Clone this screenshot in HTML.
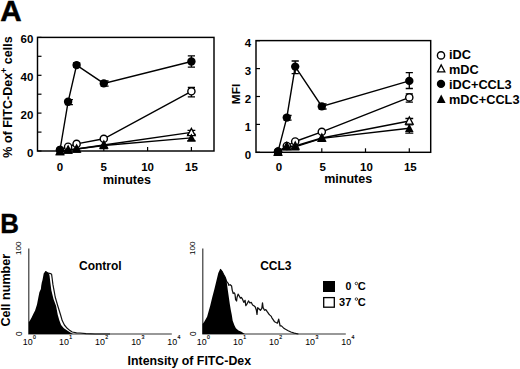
<!DOCTYPE html><html><head><meta charset="utf-8"><style>html,body{margin:0;padding:0;background:#fff;}svg{display:block}</style></head><body>
<svg width="520" height="369" viewBox="0 0 520 369" font-family='"Liberation Sans", sans-serif'>
<rect width="520" height="369" fill="#fff"/>
<text x="0.3" y="20.8" font-size="29.6" font-weight="bold" stroke="#000" stroke-width="0.5">A</text>
<text transform="translate(0.2,233.3) scale(0.93,1)" font-size="27.8" font-weight="bold" stroke="#000" stroke-width="0.4">B</text>
<rect x="37.5" y="37.4" width="176.5" height="113.6" fill="none" stroke="#000" stroke-width="1.45"/>
<path d="M37.5,151.0H41.5" stroke="#000" stroke-width="1.2"/>
<path d="M37.5,132.1H41.5" stroke="#000" stroke-width="1.2"/>
<path d="M37.5,113.1H41.5" stroke="#000" stroke-width="1.2"/>
<path d="M37.5,94.2H41.5" stroke="#000" stroke-width="1.2"/>
<path d="M37.5,75.3H41.5" stroke="#000" stroke-width="1.2"/>
<path d="M37.5,56.3H41.5" stroke="#000" stroke-width="1.2"/>
<path d="M37.5,37.4H41.5" stroke="#000" stroke-width="1.2"/>
<path d="M60.0,151V147" stroke="#000" stroke-width="1.2"/>
<path d="M103.8,151V147" stroke="#000" stroke-width="1.2"/>
<path d="M147.6,151V147" stroke="#000" stroke-width="1.2"/>
<path d="M191.4,151V147" stroke="#000" stroke-width="1.2"/>
<path d="M60.0,150.0 L68.1,146.7 L76.6,143.9 L103.8,138.8 L191.4,91.3" fill="none" stroke="#000" stroke-width="1.4"/>
<path d="M60.0,151.5 L68.1,150.0 L76.6,149.0 L103.8,145.0 L191.4,132.4" fill="none" stroke="#000" stroke-width="1.4"/>
<path d="M60.0,150.0 L68.1,101.8 L76.6,65.1 L103.8,83.4 L191.4,61.5" fill="none" stroke="#000" stroke-width="1.4"/>
<path d="M60.0,151.5 L68.1,150.0 L76.6,149.0 L103.8,145.5 L191.4,137.9" fill="none" stroke="#000" stroke-width="1.4"/>
<path d="M191.4,87.5V96.8M187.8,87.5H195.0M187.8,96.8H195.0" stroke="#000" stroke-width="1.3" fill="none"/>
<path d="M191.4,130.3V134.5M187.5,130.3H195.3M187.5,134.5H195.3" stroke="#000" stroke-width="1.3" fill="none"/>
<path d="M191.4,55.8V67.2M187.8,55.8H195.0M187.8,67.2H195.0" stroke="#000" stroke-width="1.3" fill="none"/>
<path d="M68.9,99.6V104.7M64.9,99.6H72.9M64.9,104.7H72.9" stroke="#000" stroke-width="1.3" fill="none"/>
<path d="M76.6,63.0V67.0M73.0,63.0H80.2M73.0,67.0H80.2" stroke="#000" stroke-width="1.3" fill="none"/>
<path d="M104.6,81.0V86.2M100.6,81.0H108.6M100.6,86.2H108.6" stroke="#000" stroke-width="1.3" fill="none"/>
<path d="M191.4,134.5V140.8M187.2,134.5H195.6M187.2,140.8H195.6" stroke="#000" stroke-width="1.3" fill="none"/>
<circle cx="60.0" cy="150.0" r="3.6" fill="#fff" stroke="#000" stroke-width="1.4"/>
<circle cx="68.1" cy="146.7" r="3.6" fill="#fff" stroke="#000" stroke-width="1.4"/>
<circle cx="76.6" cy="143.9" r="3.6" fill="#fff" stroke="#000" stroke-width="1.4"/>
<circle cx="103.8" cy="138.8" r="3.6" fill="#fff" stroke="#000" stroke-width="1.4"/>
<circle cx="191.4" cy="91.3" r="3.6" fill="#fff" stroke="#000" stroke-width="1.4"/>
<polygon points="60.0,147.5 56.2,154.7 63.8,154.7" fill="#fff" stroke="#000" stroke-width="1.3" stroke-linejoin="miter"/>
<polygon points="68.1,146.0 64.3,153.2 71.9,153.2" fill="#fff" stroke="#000" stroke-width="1.3" stroke-linejoin="miter"/>
<polygon points="76.6,145.0 72.8,152.2 80.4,152.2" fill="#fff" stroke="#000" stroke-width="1.3" stroke-linejoin="miter"/>
<polygon points="103.8,141.0 100.0,148.2 107.6,148.2" fill="#fff" stroke="#000" stroke-width="1.3" stroke-linejoin="miter"/>
<polygon points="191.4,128.4 187.6,135.6 195.2,135.6" fill="#fff" stroke="#000" stroke-width="1.3" stroke-linejoin="miter"/>
<circle cx="60.0" cy="150.0" r="4.2" fill="#000"/>
<circle cx="68.1" cy="101.8" r="4.2" fill="#000"/>
<circle cx="76.6" cy="65.1" r="4.2" fill="#000"/>
<circle cx="103.8" cy="83.4" r="4.2" fill="#000"/>
<circle cx="191.4" cy="61.5" r="4.2" fill="#000"/>
<polygon points="60.0,147.0 55.7,155.2 64.3,155.2" fill="#000"/>
<polygon points="68.1,145.5 63.8,153.7 72.4,153.7" fill="#000"/>
<polygon points="76.6,144.5 72.3,152.7 80.9,152.7" fill="#000"/>
<polygon points="103.8,141.0 99.5,149.2 108.1,149.2" fill="#000"/>
<polygon points="191.4,133.4 187.1,141.6 195.7,141.6" fill="#000"/>
<text x="33.4" y="157.0" font-size="11.5" font-weight="bold" text-anchor="end">0</text>
<text x="33.4" y="119.1" font-size="11.5" font-weight="bold" text-anchor="end">20</text>
<text x="33.4" y="81.3" font-size="11.5" font-weight="bold" text-anchor="end">40</text>
<text x="33.4" y="43.4" font-size="11.5" font-weight="bold" text-anchor="end">60</text>
<text x="60.0" y="170.5" font-size="11.5" font-weight="bold" text-anchor="middle">0</text>
<text x="103.8" y="170.5" font-size="11.5" font-weight="bold" text-anchor="middle">5</text>
<text x="147.6" y="170.5" font-size="11.5" font-weight="bold" text-anchor="middle">10</text>
<text x="191.4" y="170.5" font-size="11.5" font-weight="bold" text-anchor="middle">15</text>
<text x="126.9" y="183.6" font-size="12.5" font-weight="bold" text-anchor="middle">minutes</text>
<text transform="translate(11.6,97) rotate(-90)" font-size="12.5" font-weight="bold" text-anchor="middle">% of FITC-Dex<tspan font-size="9" dy="-4.2">+</tspan><tspan dy="4.2"> cells</tspan></text>
<rect x="256" y="40.6" width="174.7" height="111.70000000000002" fill="none" stroke="#000" stroke-width="1.45"/>
<path d="M256,152.3H260" stroke="#000" stroke-width="1.2"/>
<path d="M256,124.4H260" stroke="#000" stroke-width="1.2"/>
<path d="M256,96.5H260" stroke="#000" stroke-width="1.2"/>
<path d="M256,68.6H260" stroke="#000" stroke-width="1.2"/>
<path d="M256,40.7H260" stroke="#000" stroke-width="1.2"/>
<path d="M278.0,152.3V148.3" stroke="#000" stroke-width="1.2"/>
<path d="M321.8,152.3V148.3" stroke="#000" stroke-width="1.2"/>
<path d="M365.5,152.3V148.3" stroke="#000" stroke-width="1.2"/>
<path d="M409.3,152.3V148.3" stroke="#000" stroke-width="1.2"/>
<path d="M278.0,151.5 L286.8,146.0 L295.2,141.5 L321.8,131.8 L409.3,97.4" fill="none" stroke="#000" stroke-width="1.4"/>
<path d="M278.0,152.0 L286.8,146.3 L295.2,146.0 L321.8,138.0 L409.3,121.0" fill="none" stroke="#000" stroke-width="1.4"/>
<path d="M278.0,151.7 L286.8,117.6 L295.2,66.6 L321.8,106.4 L409.3,80.9" fill="none" stroke="#000" stroke-width="1.4"/>
<path d="M278.0,152.2 L286.8,146.8 L295.2,146.8 L321.8,138.4 L409.3,128.3" fill="none" stroke="#000" stroke-width="1.4"/>
<path d="M409.3,93.8V102.2M405.7,93.8H412.9M405.7,102.2H412.9" stroke="#000" stroke-width="1.3" fill="none"/>
<path d="M409.3,118.5V124.7M405.4,118.5H413.2M405.4,124.7H413.2" stroke="#000" stroke-width="1.3" fill="none"/>
<path d="M409.3,72.6V88.5M405.7,72.6H412.9M405.7,88.5H412.9" stroke="#000" stroke-width="1.3" fill="none"/>
<path d="M295.2,61.0V73.7M291.6,61.0H298.8M291.6,73.7H298.8" stroke="#000" stroke-width="1.3" fill="none"/>
<path d="M287.6,115.5V120.2M283.6,115.5H291.6M283.6,120.2H291.6" stroke="#000" stroke-width="1.3" fill="none"/>
<path d="M322.6,104.0V109.0M318.6,104.0H326.6M318.6,109.0H326.6" stroke="#000" stroke-width="1.3" fill="none"/>
<path d="M409.3,124.5V133.1M405.3,124.5H413.3M405.3,133.1H413.3" stroke="#000" stroke-width="1.3" fill="none"/>
<circle cx="278.0" cy="151.5" r="3.6" fill="#fff" stroke="#000" stroke-width="1.4"/>
<circle cx="286.8" cy="146.0" r="3.6" fill="#fff" stroke="#000" stroke-width="1.4"/>
<circle cx="295.2" cy="141.5" r="3.6" fill="#fff" stroke="#000" stroke-width="1.4"/>
<circle cx="321.8" cy="131.8" r="3.6" fill="#fff" stroke="#000" stroke-width="1.4"/>
<circle cx="409.3" cy="97.4" r="3.6" fill="#fff" stroke="#000" stroke-width="1.4"/>
<polygon points="278.0,148.0 274.2,155.2 281.8,155.2" fill="#fff" stroke="#000" stroke-width="1.3" stroke-linejoin="miter"/>
<polygon points="286.8,142.3 283.0,149.5 290.6,149.5" fill="#fff" stroke="#000" stroke-width="1.3" stroke-linejoin="miter"/>
<polygon points="295.2,142.0 291.4,149.2 299.0,149.2" fill="#fff" stroke="#000" stroke-width="1.3" stroke-linejoin="miter"/>
<polygon points="321.8,134.0 318.0,141.2 325.6,141.2" fill="#fff" stroke="#000" stroke-width="1.3" stroke-linejoin="miter"/>
<polygon points="409.3,117.0 405.5,124.2 413.1,124.2" fill="#fff" stroke="#000" stroke-width="1.3" stroke-linejoin="miter"/>
<circle cx="278.0" cy="151.7" r="4.2" fill="#000"/>
<circle cx="286.8" cy="117.6" r="4.2" fill="#000"/>
<circle cx="295.2" cy="66.6" r="4.2" fill="#000"/>
<circle cx="321.8" cy="106.4" r="4.2" fill="#000"/>
<circle cx="409.3" cy="80.9" r="4.2" fill="#000"/>
<polygon points="278.0,147.7 273.7,155.9 282.3,155.9" fill="#000"/>
<polygon points="286.8,142.3 282.5,150.5 291.1,150.5" fill="#000"/>
<polygon points="295.2,142.3 290.9,150.5 299.5,150.5" fill="#000"/>
<polygon points="321.8,133.9 317.5,142.1 326.1,142.1" fill="#000"/>
<polygon points="409.3,123.8 405.0,132.0 413.6,132.0" fill="#000"/>
<text x="251.1" y="158.6" font-size="11.5" font-weight="bold" text-anchor="end">0</text>
<text x="251.1" y="130.7" font-size="11.5" font-weight="bold" text-anchor="end">1</text>
<text x="251.1" y="102.8" font-size="11.5" font-weight="bold" text-anchor="end">2</text>
<text x="251.1" y="74.9" font-size="11.5" font-weight="bold" text-anchor="end">3</text>
<text x="251.1" y="47.0" font-size="11.5" font-weight="bold" text-anchor="end">4</text>
<text x="279.0" y="170.5" font-size="11.5" font-weight="bold" text-anchor="middle">0</text>
<text x="322.8" y="170.5" font-size="11.5" font-weight="bold" text-anchor="middle">5</text>
<text x="366.5" y="170.5" font-size="11.5" font-weight="bold" text-anchor="middle">10</text>
<text x="410.3" y="170.5" font-size="11.5" font-weight="bold" text-anchor="middle">15</text>
<text x="348.2" y="183.4" font-size="12.5" font-weight="bold" text-anchor="middle">minutes</text>
<text transform="translate(240.2,94) rotate(-90)" font-size="11.8" font-weight="bold" text-anchor="middle">MFI</text>
<circle cx="441.0" cy="55.4" r="3.6" fill="#fff" stroke="#000" stroke-width="1.4"/>
<text x="449" y="59.4" font-size="12.75" font-weight="bold">iDC</text>
<polygon points="441.2,64.9 437.6,71.8 444.8,71.8" fill="#fff" stroke="#000" stroke-width="1.3" stroke-linejoin="miter"/>
<text x="449" y="74" font-size="12.75" font-weight="bold">mDC</text>
<circle cx="441.0" cy="83.9" r="4.2" fill="#000"/>
<text x="449" y="88.7" font-size="12.75" font-weight="bold">iDC+CCL3</text>
<polygon points="441.2,94.5 436.8,102.9 445.6,102.9" fill="#000"/>
<text x="449" y="104" font-size="12.75" font-weight="bold">mDC+CCL3</text>
<path d="M28.8,248.5V334H171.8" fill="none" stroke="#333" stroke-width="1.15"/>
<text transform="translate(21.3,248.3) rotate(-90)" font-size="8.1" text-anchor="middle">100</text>
<text transform="translate(21.6,333.8) rotate(-90)" font-size="8.3" text-anchor="middle">0</text>
<text x="27.8" y="344.9" font-size="8.9" text-anchor="middle">10</text>
<text x="33.1" y="338.9" font-size="5.2" stroke="#000" stroke-width="0.15">0</text>
<text x="63.9" y="344.9" font-size="8.9" text-anchor="middle">10</text>
<text x="69.2" y="338.9" font-size="5.2" stroke="#000" stroke-width="0.15">1</text>
<text x="100.0" y="344.9" font-size="8.9" text-anchor="middle">10</text>
<text x="105.3" y="338.9" font-size="5.2" stroke="#000" stroke-width="0.15">2</text>
<text x="136.1" y="344.9" font-size="8.9" text-anchor="middle">10</text>
<text x="141.4" y="338.9" font-size="5.2" stroke="#000" stroke-width="0.15">3</text>
<text x="172.2" y="344.9" font-size="8.9" text-anchor="middle">10</text>
<text x="177.5" y="338.9" font-size="5.2" stroke="#000" stroke-width="0.15">4</text>
<path d="M202.8,248.5V334H345.8" fill="none" stroke="#333" stroke-width="1.15"/>
<text transform="translate(195.3,248.3) rotate(-90)" font-size="8.1" text-anchor="middle">100</text>
<text transform="translate(195.6,333.8) rotate(-90)" font-size="8.3" text-anchor="middle">0</text>
<text x="201.8" y="344.9" font-size="8.9" text-anchor="middle">10</text>
<text x="207.1" y="338.9" font-size="5.2" stroke="#000" stroke-width="0.15">0</text>
<text x="237.9" y="344.9" font-size="8.9" text-anchor="middle">10</text>
<text x="243.2" y="338.9" font-size="5.2" stroke="#000" stroke-width="0.15">1</text>
<text x="274.0" y="344.9" font-size="8.9" text-anchor="middle">10</text>
<text x="279.3" y="338.9" font-size="5.2" stroke="#000" stroke-width="0.15">2</text>
<text x="310.1" y="344.9" font-size="8.9" text-anchor="middle">10</text>
<text x="315.4" y="338.9" font-size="5.2" stroke="#000" stroke-width="0.15">3</text>
<text x="346.2" y="344.9" font-size="8.9" text-anchor="middle">10</text>
<text x="351.5" y="338.9" font-size="5.2" stroke="#000" stroke-width="0.15">4</text>
<polyline points="45.5,271.4 48.3,273.2 50.5,273.6 51.6,274.3 52.1,278.0 52.9,284.4 54.3,291.8 55.2,297.0 57.8,306.0 60.6,315.0 62.2,320.6 64.4,325.0 67.2,328.3 70.0,330.6 72.2,332.0 76.5,332.8 80.0,333.0 86.0,333.6 95.0,334.0 110.0,334.0" fill="none" stroke="#111" stroke-width="1.2" stroke-linejoin="round"/>
<polygon points="28.8,334.0 28.8,322.0 29.7,320.9 31.5,317.8 33.3,314.1 35.1,310.5 37.0,304.4 38.2,298.3 39.4,292.2 40.9,289.0 41.2,286.1 41.8,282.6 42.5,280.0 43.7,273.4 45.5,271.0 47.0,272.2 48.3,272.9 49.3,274.5 49.6,276.0 50.3,282.0 51.3,290.0 52.5,295.0 53.5,299.0 56.1,306.1 57.8,315.0 59.4,320.6 61.1,325.0 63.9,328.3 67.2,330.6 70.0,332.2 72.0,333.4 73.0,334.0" fill="#000"/>
<polyline points="220.2,269.2 222.0,271.3 223.5,274.3 225.2,277.3 226.6,281.5 228.2,283.3 228.8,285.3 230.2,284.7 231.6,286.0 232.2,290.1 233.2,293.5 234.3,292.8 235.0,294.2 235.6,299.6 236.6,301.0 237.0,297.5 238.1,294.2 239.0,295.5 240.4,298.2 241.3,297.5 242.4,298.9 243.8,302.3 245.1,300.3 245.8,305.7 247.2,303.6 248.5,300.9 249.9,303.0 251.2,302.3 252.6,305.0 253.9,305.7 255.3,307.0 256.4,310.3 257.0,314.4 257.7,307.6 259.1,309.0 260.4,310.3 261.8,308.3 262.5,302.9 263.1,307.6 264.5,310.3 265.8,309.6 267.2,311.7 268.6,313.7 269.9,315.1 271.3,316.4 271.9,317.8 273.3,319.8 274.6,321.8 276.0,322.5 277.4,323.2 278.7,319.1 279.4,322.5 280.1,325.9 281.4,325.9 283.5,327.9 285.5,329.3 288.2,330.7 290.9,332.0 294.3,333.1 298.4,334.0" fill="none" stroke="#111" stroke-width="1.25" stroke-linejoin="round"/>
<polygon points="202.5,334.0 202.5,324.0 204.1,321.9 207.1,316.8 210.2,305.7 212.2,297.5 214.3,289.4 216.3,281.3 218.3,273.1 220.2,269.0 222.0,271.0 223.5,274.0 225.2,277.0 226.3,280.0 227.0,284.0 227.8,290.0 228.8,297.0 229.8,304.0 230.8,310.0 231.8,315.0 232.7,320.7 234.5,325.5 235.9,328.3 238.5,330.5 241.4,331.8 244.0,333.5 245.0,334.0" fill="#000"/>
<text x="79" y="269.8" font-size="12" font-weight="bold">Control</text>
<text x="260.2" y="270" font-size="12" font-weight="bold">CCL3</text>
<text transform="translate(9.5,290.2) rotate(-90)" font-size="12.6" font-weight="bold" text-anchor="middle">Cell number</text>
<text x="127.6" y="365.1" font-size="12.35" font-weight="bold">Intensity of FITC-Dex</text>
<rect x="323" y="281" width="12" height="11" fill="#000"/>
<rect x="323.7" y="297.6" width="10.6" height="9.6" fill="#fff" stroke="#000" stroke-width="1.3"/>
<text x="351.3" y="290.2" font-size="10.6" font-weight="bold" text-anchor="end">0</text>
<text x="351.3" y="305.9" font-size="11" font-weight="bold" text-anchor="end">37</text>
<circle cx="356.4" cy="283.5" r="1.25" fill="none" stroke="#000" stroke-width="0.75"/>
<text x="357.75" y="290.4" font-size="11.1" font-weight="bold">C</text>
<circle cx="356.4" cy="299.1" r="1.25" fill="none" stroke="#000" stroke-width="0.75"/>
<text x="357.75" y="306.0" font-size="11.1" font-weight="bold">C</text>
</svg></body></html>
